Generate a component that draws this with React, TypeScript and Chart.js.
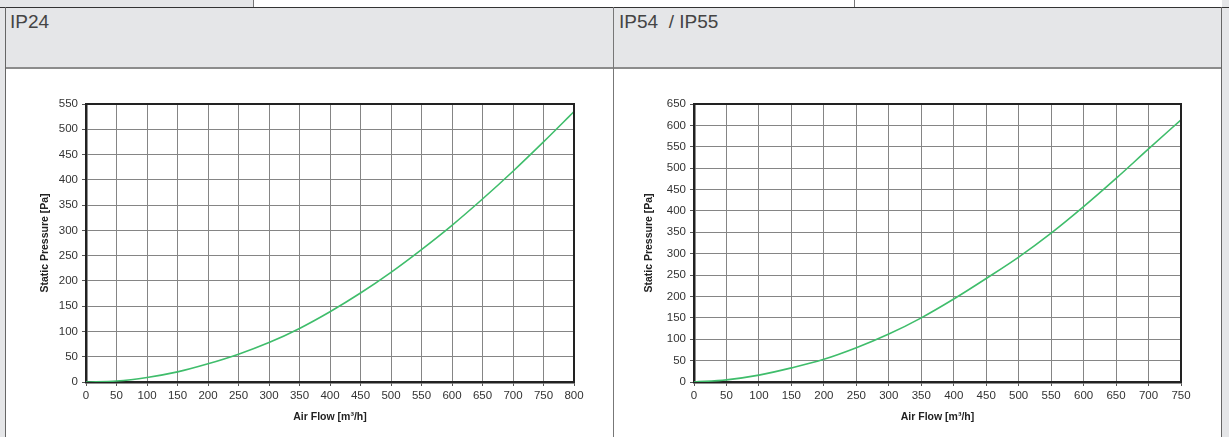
import React, { useEffect, useRef } from "react";
import { Chart, registerables } from "chart.js";

Chart.register(...registerables);

// ---- Data ----
const flowIP24 = [0, 50, 100, 150, 200, 250, 300, 350, 400, 450, 500, 550, 600, 650, 700, 750, 800];
const pressureIP24 = [0, 2, 9, 20, 36, 55, 78, 106, 139, 176, 217, 262, 310, 362, 417, 475, 535];

const flowIP55 = [0, 50, 100, 150, 200, 250, 300, 350, 400, 450, 500, 550, 600, 650, 700, 750];
const pressureIP55 = [0, 5, 16, 33, 53, 80, 112, 150, 194, 242, 292, 348, 410, 476, 545, 613];

const xMaxIP24 = 800;
const yMaxIP24 = 550;
const xMaxIP55 = 750;
const yMaxIP55 = 650;
const tickStep = 50;

const headerIP24 = "IP24";
const headerIP55 = "IP54  / IP55";
const xTitle = "Air Flow [m³/h]";
const yTitle = "Static Pressure [Pa]";

const FONT = "'Liberation Sans', Arial, Helvetica, sans-serif";
const GRAY = "#e5e6e8";

const framePlugin = {
  id: "frame",
  afterDraw(chart: any) {
    const { ctx, chartArea } = chart;
    const { left, top, right, bottom } = chartArea;
    ctx.save();
    ctx.strokeStyle = "#222";
    ctx.lineWidth = 2;
    ctx.beginPath();
    ctx.moveTo(left, top);
    ctx.lineTo(right, top);
    ctx.lineTo(right, bottom);
    ctx.stroke();
    ctx.restore();
  },
};

function FanChart(props: {
  flows: number[];
  pressures: number[];
  xMax: number;
  yMax: number;
  left: number;
  top: number;
  width: number;
  height: number;
  yTitlePad: number;
}) {
  const ref = useRef<HTMLCanvasElement>(null);
  useEffect(() => {
    const chart = new Chart(ref.current as HTMLCanvasElement, {
      type: "line",
      data: {
        datasets: [
          {
            data: props.flows.map((f, i) => ({ x: f, y: props.pressures[i] })),
            borderColor: "#3fbd6b",
            borderWidth: 1.6,
            pointRadius: 0,
            cubicInterpolationMode: "monotone",
            fill: false,
          },
        ],
      },
      options: {
        animation: false,
        responsive: false,
        devicePixelRatio: 1,
        layout: { padding: { top: 14, right: 26, left: 0, bottom: 0 } },
        plugins: { legend: { display: false }, tooltip: { enabled: false } },
        scales: {
          x: {
            type: "linear",
            min: 0,
            max: props.xMax,
            afterFit: (s: any) => {
              s.height = 45;
            },
            ticks: {
              stepSize: tickStep,
              autoSkip: false,
              maxRotation: 0,
              padding: 3,
              color: "#333",
              font: { family: FONT, size: 11.5 },
            },
            grid: { color: "#858585", lineWidth: 1, tickLength: 4, tickColor: "#555" },
            border: { color: "#222", width: 2.5 },
            title: {
              display: true,
              text: xTitle,
              color: "#222",
              font: { family: FONT, size: 10.5, weight: "bold" },
              padding: { top: 0, bottom: 3.7 },
            },
          },
          y: {
            type: "linear",
            min: 0,
            max: props.yMax,
            afterFit: (s: any) => {
              s.width = 56;
            },
            ticks: {
              stepSize: tickStep,
              autoSkip: false,
              padding: 4,
              color: "#333",
              font: { family: FONT, size: 11.5 },
            },
            grid: { color: "#858585", lineWidth: 1, tickLength: 4, tickColor: "#555" },
            border: { color: "#222", width: 2.5 },
            title: {
              display: true,
              text: yTitle,
              color: "#222",
              font: { family: FONT, size: 10.5, weight: "bold" },
              padding: { top: props.yTitlePad, bottom: 0 },
            },
          },
        },
      },
      plugins: [framePlugin],
    } as any);
    return () => chart.destroy();
  }, []);
  return (
    <canvas
      ref={ref}
      width={props.width}
      height={props.height}
      style={{ position: "absolute", left: props.left, top: props.top, width: props.width, height: props.height }}
    />
  );
}

const abs = (l: number, t: number, w: number, h: number, bg: string): React.CSSProperties => ({
  position: "absolute",
  left: l,
  top: t,
  width: w,
  height: h,
  background: bg,
});

export default function App() {
  return (
    <div
      style={{
        position: "absolute",
        left: 0,
        top: 0,
        width: 1229,
        height: 437,
        background: "#fff",
        overflow: "hidden",
        fontFamily: FONT,
      }}
    >
      {/* side gray strips */}
      <div style={abs(0, 0, 5, 437, GRAY)} />
      <div style={abs(1222, 0, 7, 437, GRAY)} />
      {/* top strip */}
      <div style={abs(0, 0, 253, 8, GRAY)} />
      <div style={abs(253, 0, 1, 8, "#777")} />
      <div style={abs(854, 0, 1, 8, "#777")} />
      {/* header row */}
      <div style={abs(5, 8, 1216, 59, GRAY)} />
      <div style={abs(0, 7, 1229, 1, "#333")} />
      <div style={abs(5, 67, 1216, 2, "#8c8c8c")} />
      {/* vertical lines */}
      <div style={abs(5, 7, 1, 430, "#666")} />
      <div style={abs(613, 7, 1, 430, "#777")} />
      <div style={abs(1221, 7, 1, 430, "#666")} />
      {/* header texts */}
      <div
        style={{
          position: "absolute",
          left: 10,
          top: 11,
          fontSize: 19,
          color: "#444",
          whiteSpace: "pre",
          lineHeight: "22px",
        }}
      >
        {headerIP24}
      </div>
      <div
        style={{
          position: "absolute",
          left: 619,
          top: 11,
          fontSize: 19,
          color: "#444",
          whiteSpace: "pre",
          lineHeight: "22px",
        }}
      >
        {headerIP55}
      </div>
      <FanChart
        flows={flowIP24}
        pressures={pressureIP24}
        xMax={xMaxIP24}
        yMax={yMaxIP24}
        left={30}
        top={90}
        width={570}
        height={337}
        yTitlePad={8.7}
      />
      <FanChart
        flows={flowIP55}
        pressures={pressureIP55}
        xMax={xMaxIP55}
        yMax={yMaxIP55}
        left={638}
        top={90}
        width={569}
        height={337}
        yTitlePad={4.7}
      />
    </div>
  );
}
